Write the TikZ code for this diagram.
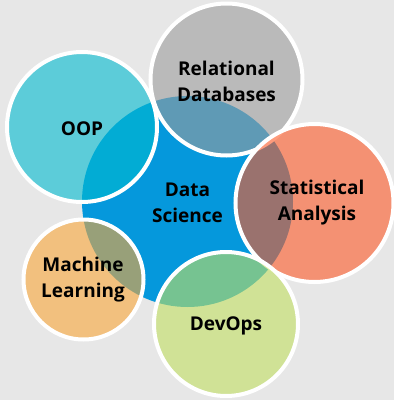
\documentclass[tikz,border=0pt]{standalone}
\usepackage{fontspec}
\setmainfont{Open Sans}
\definecolor{bgcol}{RGB}{231,231,231}
\definecolor{dscol}{RGB}{5,152,220}
\definecolor{oopcol}{RGB}{0,186,208}
\definecolor{rdbcol}{RGB}{156,156,156}
\definecolor{statcol}{RGB}{254,89,38}
\definecolor{mlcol}{RGB}{250,166,56}
\definecolor{devcol}{RGB}{194,224,96}
\tikzset{
  topic/.style={circle, draw=white, line width=4pt, fill opacity=0.6, draw opacity=1,
    inner sep=0pt, minimum size=#1},
  lbl/.style={font=\bfseries\fontsize{19}{26}\selectfont, align=center, text=black,
    text opacity=1, yshift=-1.5pt}
}
\begin{document}
\begin{tikzpicture}[x=1pt,y=-1pt]
  \fill[bgcol] (0,0) rectangle (394,400);
  \useasboundingbox (0,0) rectangle (394,400);
  % central circle
  \node[circle, fill=dscol, inner sep=0pt, minimum size=211pt] (ds) at (187.5,201.5) {};
  % surrounding topics
  \node[topic=152pt, fill=rdbcol] (rdb) at (226.5,79.5) {};
  \node[topic=158pt, fill=statcol] (stat) at (314.5,203) {};
  \node[topic=144pt, fill=devcol] (dev) at (226,324) {};
  \node[topic=120pt, fill=mlcol] (ml) at (83.5,279.5) {};
  \node[topic=150pt, fill=oopcol] (oop) at (82,127) {};
  % labels
  \node[lbl] at (ds) {Data\\Science};
  \node[lbl] at (rdb) {Relational\\Databases};
  \node[lbl] at (317,201) {Statistical\\Analysis};
  \node[lbl] at (dev) {DevOps};
  \node[lbl] at (83,278) {Machine\\Learning};
  \node[lbl] at (oop) {OOP};
\end{tikzpicture}
\end{document}
